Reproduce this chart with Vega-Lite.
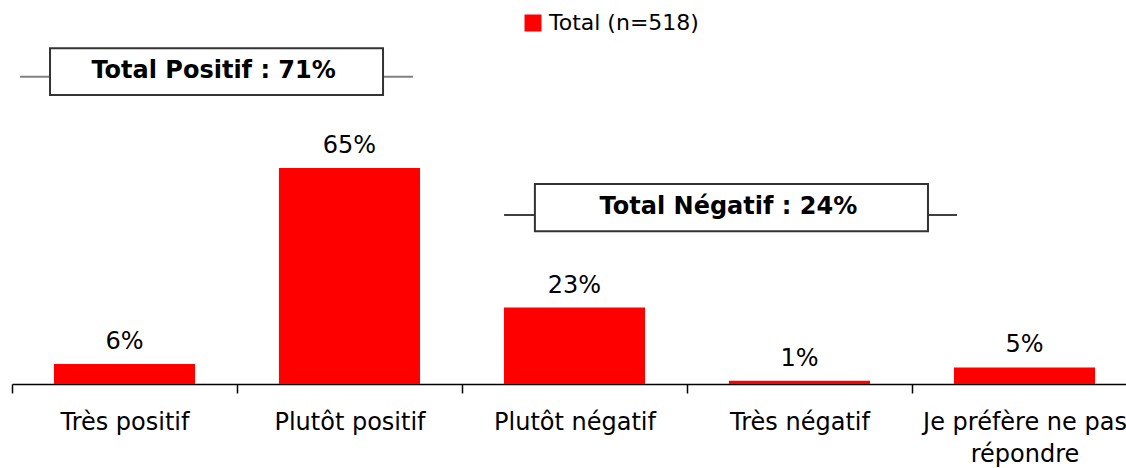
{
  "$schema": "https://vega.github.io/schema/vega-lite/v6.json",
  "width": 1114,
  "height": 384,
  "autosize": {"type": "none"},
  "padding": {"left": 12, "top": 0, "right": 0, "bottom": 84},
  "config": {"view": {"stroke": null}, "font": "DejaVu Sans"},
  "datasets": {
    "bars": [
      {"cat": "Très positif", "value": 6, "pct": "6%", "series": "Total (n=518)"},
      {"cat": "Plutôt positif", "value": 65, "pct": "65%", "series": "Total (n=518)"},
      {"cat": "Plutôt négatif", "value": 23, "pct": "23%", "series": "Total (n=518)"},
      {"cat": "Très négatif", "value": 1, "pct": "1%", "series": "Total (n=518)"},
      {"cat": "Je préfère ne pas répondre", "value": 5, "pct": "5%", "series": "Total (n=518)"}
    ],
    "notes": [
      {"kind": "pos", "label": "Total Positif : 71%", "x0": 0.036, "x1": 1.782, "bx0": 0.169, "bx1": 1.649, "yl": 92.5, "ytop": 101.1, "ybot": 87.0, "xt": 0.896, "yt": 92.2},
      {"kind": "neg", "label": "Total Négatif : 24%", "x0": 2.187, "x1": 4.2, "bx0": 2.324, "bx1": 4.071, "yl": 50.9, "ytop": 60.2, "ybot": 46.0, "xt": 3.184, "yt": 51.2}
    ]
  },
  "layer": [
    {
      "layer": [
        {
          "data": {"name": "bars"},
          "mark": {"type": "bar", "color": "#ff0000"},
          "encoding": {
            "x": {
              "field": "cat", "type": "nominal", "sort": null,
              "scale": {"range": [0, 1125], "paddingInner": 0.373, "paddingOuter": 0.1865},
              "axis": {
                "orient": "bottom",
                "title": null, "labelAngle": 0, "labelFontSize": 24, "labelColor": "#000",
                "labelFont": "DejaVu Sans", "domainColor": "#000", "domainWidth": 1.5,
                "tickColor": "#000", "tickWidth": 1.5, "tickSize": 9,
                "tickOffset": -112.5, "labelOffset": 112.5,
                "labelPadding": 17, "labelLineHeight": 32, "labelLimit": 0,
                "labelExpr": "datum.label == 'Je préfère ne pas répondre' ? ['Je préfère ne pas', 'répondre'] : datum.label"
              }
            },
            "y": {"field": "value", "type": "quantitative", "scale": {"domain": [0, 115.6], "nice": false}, "axis": null},
            "color": {
              "field": "series", "type": "nominal",
              "scale": {"range": ["#ff0000"]},
              "legend": {
                "title": null, "orient": "none", "legendX": 510, "legendY": 12,
                "symbolType": "square", "symbolSize": 289, "symbolStrokeWidth": 0,
                "labelFontSize": 22, "labelColor": "#000", "labelFont": "DejaVu Sans",
                "labelOffset": 5, "padding": 0
              }
            }
          }
        },
        {
          "data": {"name": "bars"},
          "mark": {"type": "text", "fontSize": 24, "color": "#000", "baseline": "alphabetic", "dy": -15},
          "encoding": {
            "x": {"field": "cat", "type": "nominal", "sort": null},
            "y": {"field": "value", "type": "quantitative"},
            "text": {"field": "pct"}
          }
        }
      ]
    },
    {
      "layer": [
        {
          "data": {"name": "notes"},
          "transform": [{"filter": "datum.kind == 'pos'"}],
          "mark": {"type": "rule", "color": "#808080", "strokeWidth": 2},
          "encoding": {
            "x": {"field": "x0", "type": "quantitative", "scale": {"domain": [0, 5], "range": [0, 1125], "nice": false, "zero": false}, "axis": null},
            "x2": {"field": "x1"},
            "y": {"field": "yl", "type": "quantitative"}
          }
        },
        {
          "data": {"name": "notes"},
          "transform": [{"filter": "datum.kind == 'neg'"}],
          "mark": {"type": "rule", "color": "#404040", "strokeWidth": 2},
          "encoding": {
            "x": {"field": "x0", "type": "quantitative", "axis": null},
            "x2": {"field": "x1"},
            "y": {"field": "yl", "type": "quantitative"}
          }
        },
        {
          "data": {"name": "notes"},
          "mark": {"type": "rect", "fill": "#ffffff", "stroke": "#333333", "strokeWidth": 2},
          "encoding": {
            "x": {"field": "bx0", "type": "quantitative", "axis": null},
            "x2": {"field": "bx1"},
            "y": {"field": "ytop", "type": "quantitative"},
            "y2": {"field": "ybot"}
          }
        },
        {
          "data": {"name": "notes"},
          "mark": {"type": "text", "fontSize": 24, "fontWeight": "bold", "color": "#000", "baseline": "alphabetic", "align": "center"},
          "encoding": {
            "x": {"field": "xt", "type": "quantitative", "axis": null},
            "y": {"field": "yt", "type": "quantitative"},
            "text": {"field": "label"}
          }
        }
      ]
    }
  ],
  "resolve": {"scale": {"x": "independent"}, "axis": {"x": "independent"}}
}
